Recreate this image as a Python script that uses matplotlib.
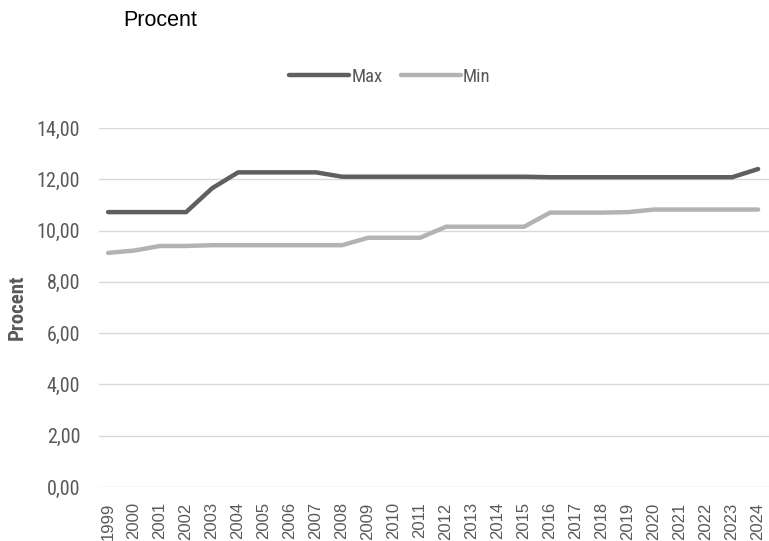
import matplotlib
matplotlib.use("Agg")
import matplotlib.pyplot as plt
from matplotlib.ticker import FuncFormatter

years = list(range(1999, 2025))
max_vals = [10.72, 10.72, 10.72, 10.72, 11.65, 12.27, 12.27, 12.27, 12.27, 12.10,
            12.10, 12.10, 12.10, 12.10, 12.10, 12.10, 12.10, 12.08, 12.08, 12.08,
            12.08, 12.08, 12.08, 12.08, 12.08, 12.40]
min_vals = [9.13, 9.22, 9.40, 9.40, 9.43, 9.43, 9.43, 9.43, 9.43, 9.43,
            9.72, 9.72, 9.72, 10.15, 10.15, 10.15, 10.15, 10.70, 10.70, 10.70,
            10.72, 10.82, 10.82, 10.82, 10.82, 10.82]

NARROW = ["Roboto Condensed", "Archivo Narrow", "PT Sans Narrow", "Liberation Sans Narrow",
          "Liberation Sans", "DejaVu Sans"]
REGULAR = ["Liberation Sans", "DejaVu Sans"]
TXT = "#595959"

fig = plt.figure(figsize=(7.69, 5.41), dpi=100)
ax = fig.add_axes([99/769, 1-487/541, (769-99)/769, (487-128)/541])

x = range(len(years))
l1, = ax.plot(x, max_vals, color="#5f5f5f", lw=3.2, solid_capstyle="round", label="Max")
l2, = ax.plot(x, min_vals, color="#b3b3b3", lw=3.2, solid_capstyle="round", label="Min")

ax.set_ylim(0, 14)
ax.set_yticks(range(0, 15, 2))
ax.yaxis.set_major_formatter(FuncFormatter(lambda v, p: f"{v:.2f}".replace(".", ",")))
ax.set_xlim(-0.35, 25.42)
ax.set_xticks(list(x))
ax.set_xticklabels([str(y) for y in years], rotation=90, family=REGULAR, fontsize=12, color=TXT)
for lab in ax.get_yticklabels():
    lab.set_family(NARROW)
    lab.set_fontsize(14.5)
    lab.set_color(TXT)

ax.grid(axis="y", color="#d9d9d9", lw=1)
ax.set_axisbelow(True)
ax.tick_params(axis="y", length=0, pad=13.5)
ax.tick_params(axis="x", length=0, pad=11)
for s in ax.spines.values():
    s.set_visible(False)

ax.set_ylabel("Procent", family=NARROW, fontsize=15, fontweight="bold", color=TXT, labelpad=7)

fig.text(123/769, 1-20/541, "Procent", fontsize=15.5, color="#000000", va="center", ha="left",
         family=REGULAR)

leg = fig.legend(handles=[l1, l2], loc="center", bbox_to_anchor=(390/769, 1-77/541), ncol=2,
                 frameon=False, prop={"family": NARROW, "size": 13.5}, handlelength=3.2,
                 handletextpad=0.1, columnspacing=1.0)
for t in leg.get_texts():
    t.set_color(TXT)

fig.savefig("out.png", dpi=100)
